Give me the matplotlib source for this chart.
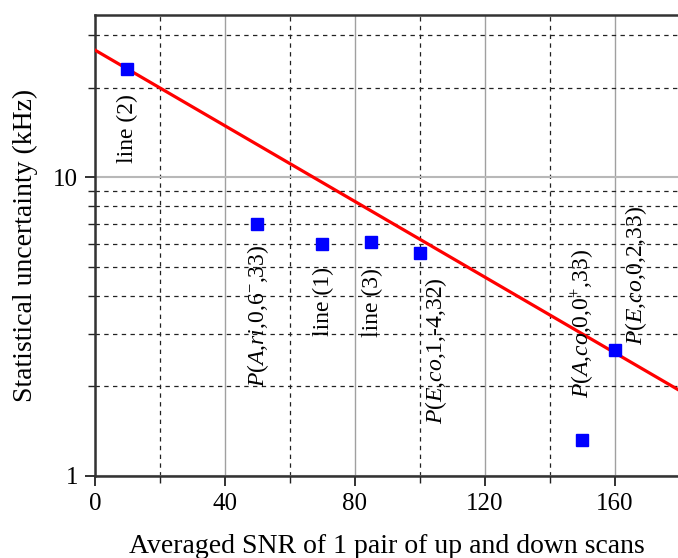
import matplotlib
matplotlib.use("Agg")
import matplotlib.pyplot as plt
from matplotlib.ticker import FixedLocator, NullFormatter, FixedFormatter

plt.rcParams['font.family'] = ['Liberation Serif', 'DejaVu Serif']
plt.rcParams['mathtext.fontset'] = 'custom'
plt.rcParams['mathtext.rm'] = 'Liberation Serif'
plt.rcParams['mathtext.it'] = 'Liberation Serif:italic'
plt.rcParams['mathtext.bf'] = 'Liberation Serif:bold'

# data
snr = [10, 50, 70, 85, 100, 150, 160]
uncert = [23.1, 7.0, 6.0, 6.1, 5.6, 1.32, 2.64]
fit_x = [0, 180]
fit_y = [26.7, 1.93]

labels = ["line (2)", r"$P(A{,}ri{,}0{,}6^{-}{,}33)$", "line (1)", "line (3)",
          r"$P(E{,}co{,}1{,}$-$4{,}32)$", r"$P(A{,}co{,}0{,}0^{+}{,}33)$", r"$P(E{,}co{,}0{,}2{,}33)$"]
label_x = [9.85, 50.2, 70.2, 85.5, 104.9, 150.2, 166.5]
label_y = [14.6, 3.43, 3.85, 3.82, 2.62, 3.25, 4.70]

xticks = [0, 40, 80, 120, 160]
xminor = [20, 60, 100, 140]
yticks = [1, 10]
yminor = [2, 3, 4, 5, 6, 7, 8, 9, 20, 30]

fig = plt.figure(figsize=(6.78, 5.58), dpi=100)
ax = fig.add_axes([95/678, 1-476/558, 1-95/678, (476-15)/558])
ax.set_yscale('log')
ax.set_xlim(0, 179.4)
ax.set_ylim(1, 35)

ax.xaxis.set_major_locator(FixedLocator(xticks))
ax.xaxis.set_minor_locator(FixedLocator(xminor))
ax.yaxis.set_major_locator(FixedLocator(yticks))
ax.yaxis.set_major_formatter(FixedFormatter([str(t) for t in yticks]))
ax.yaxis.set_minor_locator(FixedLocator(yminor))
ax.yaxis.set_minor_formatter(NullFormatter())

ax.grid(True, which='major', axis='x', color='#a0a0a0', lw=1.0, ls='-')
ax.grid(True, which='major', axis='y', color='#b8b8b8', lw=1.5, ls='-')
ax.grid(True, which='minor', color='#222222', lw=0.9, ls=(0, (3.5, 3.5)))
ax.set_axisbelow(True)

ax.tick_params(which='major', direction='out', length=7, width=1.3, labelsize=18,
               color='#222222', pad=5)
ax.tick_params(which='minor', direction='out', length=5, width=1.0, color='#222222')

for s in ['left', 'bottom', 'top']:
    ax.spines[s].set_linewidth(1.8)
    ax.spines[s].set_color('#333333')
ax.spines['right'].set_visible(False)

ax.plot(fit_x, fit_y, color='red', lw=2.3, zorder=3)
ax.plot(snr, uncert, ls='none', marker='s', ms=8.5, color='#0000ff', zorder=4)

for t, x, y in zip(labels, label_x, label_y):
    ax.text(x, y, t, rotation=90, ha='center', va='center', fontsize=17, zorder=5)

ax.set_xlabel("Averaged SNR of 1 pair of up and down scans", fontsize=20, labelpad=14)
ax.set_ylabel("Statistical uncertainty (kHz)", fontsize=20, labelpad=11)

fig.savefig("out.png", dpi=100)
